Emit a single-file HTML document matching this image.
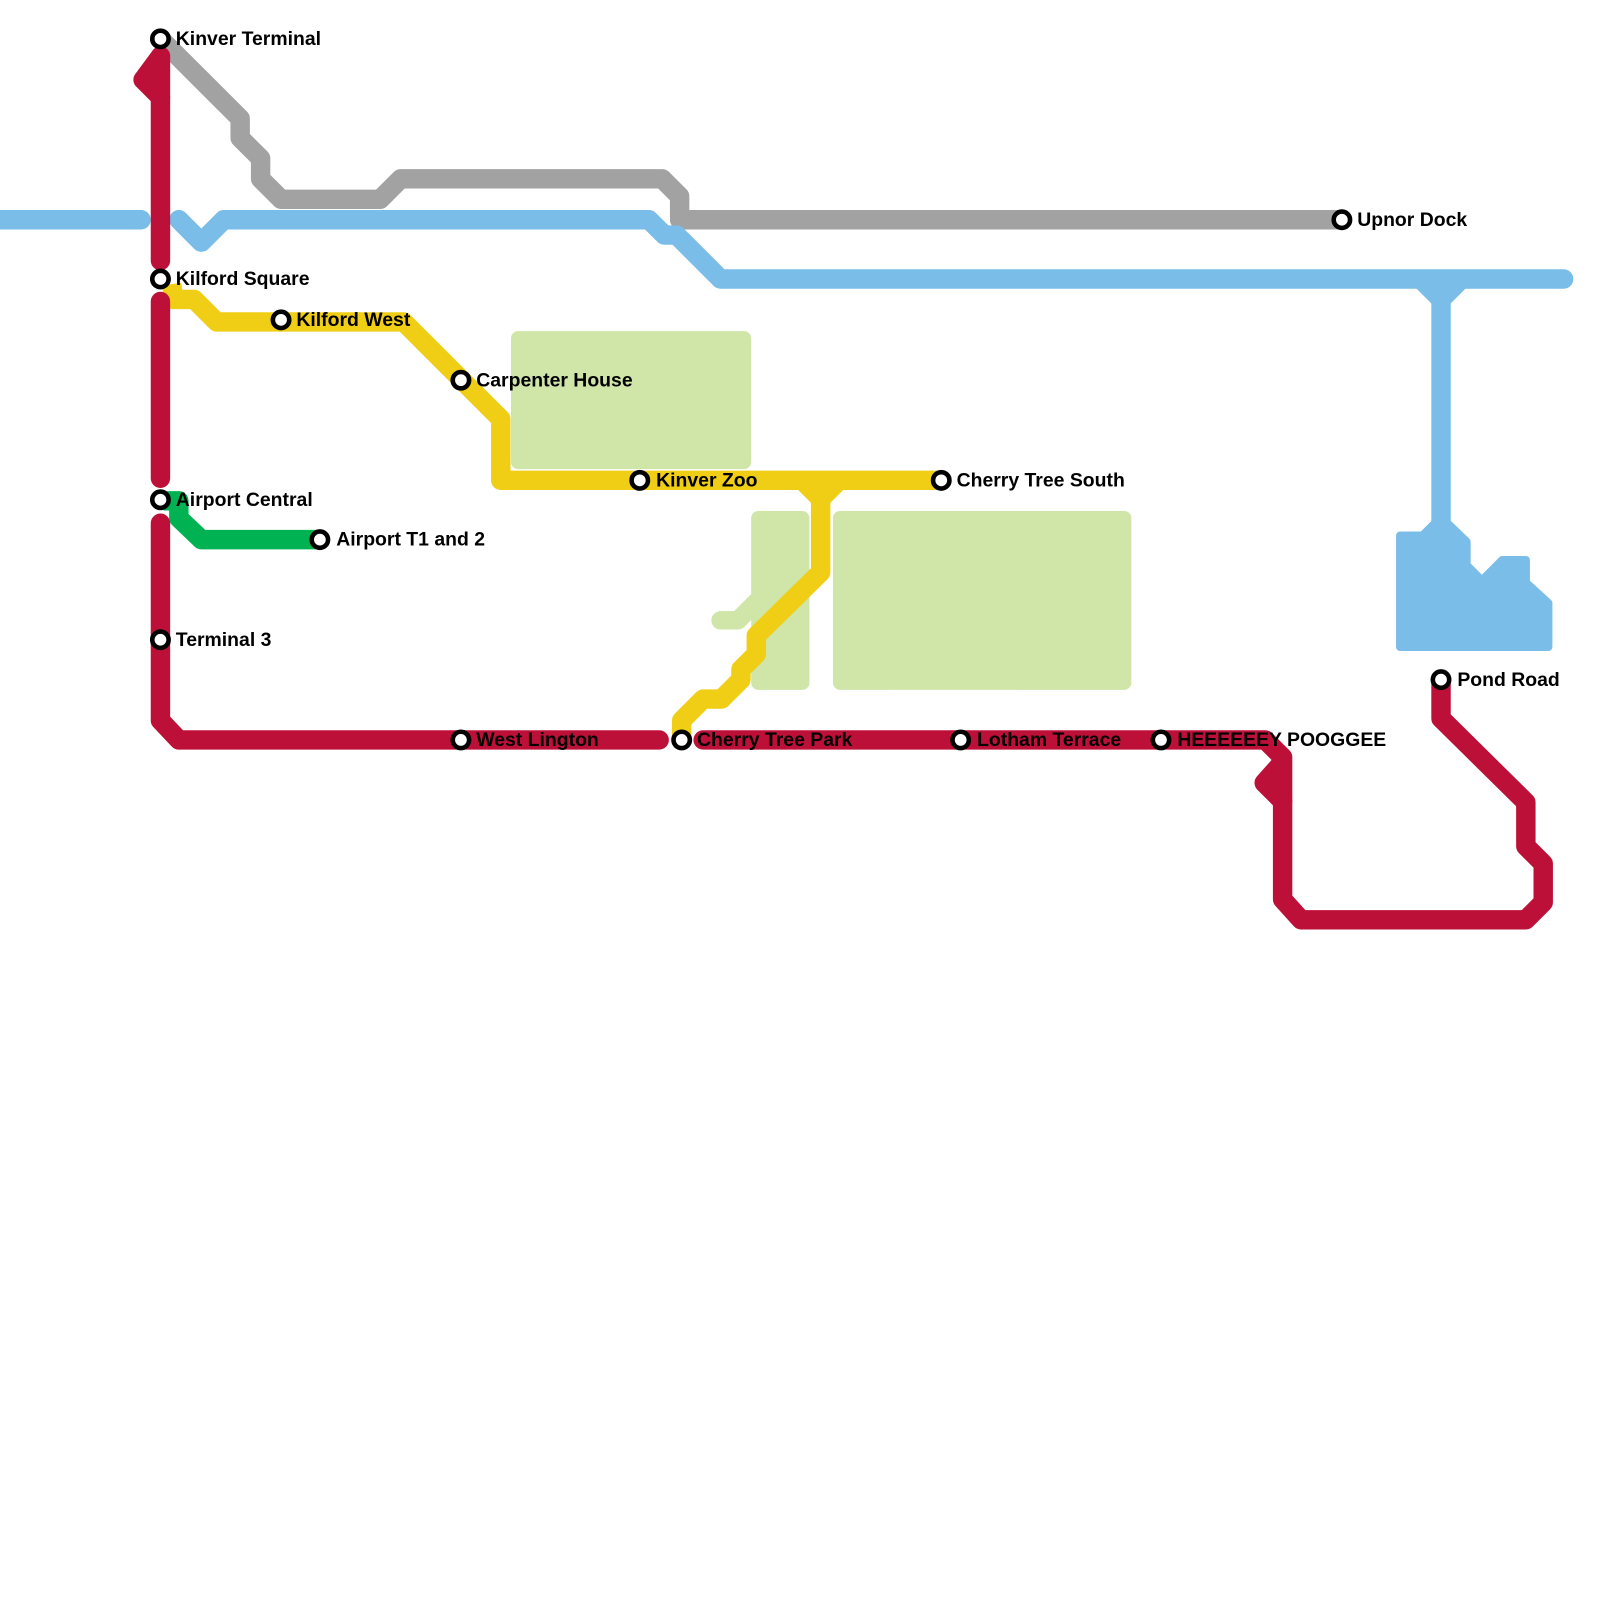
<!DOCTYPE html>
<html><head><style>html,body{margin:0;padding:0;background:#fff;}svg{display:block}</style></head>
<body>
<svg width="1600" height="1600" xmlns="http://www.w3.org/2000/svg">
<g transform="scale(1.022)">
<g fill="#d0e5a8">
<rect x="500" y="324" width="235" height="135" rx="7"/>
<rect x="735" y="500" width="57" height="175" rx="7"/>
<rect x="815" y="500" width="292" height="175" rx="7"/>
</g>
<polyline points="705,607 722,607 742,587" fill="none" stroke="#d0e5a8" stroke-width="18" stroke-linecap="round" stroke-linejoin="round"/>
<g fill="none" stroke-width="19" stroke-linejoin="round">
<polyline stroke="#a2a2a2" points="157,38 235,116 235,135 255,155 255,175 275,195 372,195 392,175 648,175 665,192 665,215 1313,215"/>
<polyline stroke="#79bde8" stroke-linecap="round" points="0,215 138,215"/>
<polyline stroke="#79bde8" stroke-linecap="round" points="175,215 197,237 219,215 635,215 650,230 662,230 705,273 1530,273"/>
<polyline stroke="#79bde8" points="1392,275 1410,293 1428,275"/>
<polyline stroke="#79bde8" points="1410,285 1410,515"/>
<polyline stroke="#f0ce15" points="168,278 170,293 190,293 212,315 395,315 490,410 490,470 920,470"/>
<polyline stroke="#f0ce15" points="785,470 803,488 803,560 740,622 740,640 725,655 725,665 706,684 688,684 667,705 667,722"/>
<polyline stroke="#f0ce15" points="821,470 803,488"/>
<polyline stroke="#00b251" points="160,490 175,490 175,507 197,528 313,528"/>
<g stroke="#bd1038" stroke-linecap="round">
<polyline points="157,55 140,78 157,95"/>
<polyline points="157,55 157,255"/>
<polyline points="157,295 157,468"/>
<polyline points="157,512 157,705 175,724 645,724"/>
<polyline points="688,724 1238,724 1255,741 1255,880 1273,900 1493,900 1510,883 1510,845 1493,828 1493,785 1410,703 1410,670"/>
<polyline points="1253,748 1237,766 1255,784"/>
</g>
</g>
<polygon fill="#79bde8" stroke="#79bde8" stroke-width="8" stroke-linejoin="round" points="1370,524 1392,524 1410,506 1435,530 1435,553 1450,568 1470,548 1493,548 1493,570 1515,590 1515,633 1370,633"/>
<g fill="#fff" stroke="#000" stroke-width="4.5">
<circle cx="157" cy="38" r="8"/><circle cx="157" cy="273" r="8"/><circle cx="275" cy="313" r="8"/>
<circle cx="451" cy="372" r="8"/><circle cx="626" cy="470" r="8"/><circle cx="921" cy="470" r="8"/>
<circle cx="157" cy="489" r="8"/><circle cx="313" cy="528" r="8"/><circle cx="157" cy="626" r="8"/>
<circle cx="451" cy="724" r="8"/><circle cx="667" cy="724" r="8"/><circle cx="940" cy="724" r="8"/>
<circle cx="1136" cy="724" r="8"/><circle cx="1313" cy="215" r="8"/><circle cx="1410" cy="665" r="8"/>
</g>
<g font-family="Liberation Sans, Arial, sans-serif" font-weight="bold" font-size="19" fill="#000">
<text x="172" y="44">Kinver Terminal</text>
<text x="172" y="279">Kilford Square</text>
<text x="290" y="319">Kilford West</text>
<text x="466" y="378">Carpenter House</text>
<text x="642" y="476">Kinver Zoo</text>
<text x="936" y="476">Cherry Tree South</text>
<text x="172" y="495">Airport Central</text>
<text x="329" y="534">Airport T1 and 2</text>
<text x="172" y="632">Terminal 3</text>
<text x="466" y="730">West Lington</text>
<text x="682" y="730">Cherry Tree Park</text>
<text x="956" y="730">Lotham Terrace</text>
<text x="1152" y="730">HEEEEEEY POOGGEE</text>
<text x="1328" y="221">Upnor Dock</text>
<text x="1426" y="671">Pond Road</text>
</g>
</g>
</svg>
</body></html>
